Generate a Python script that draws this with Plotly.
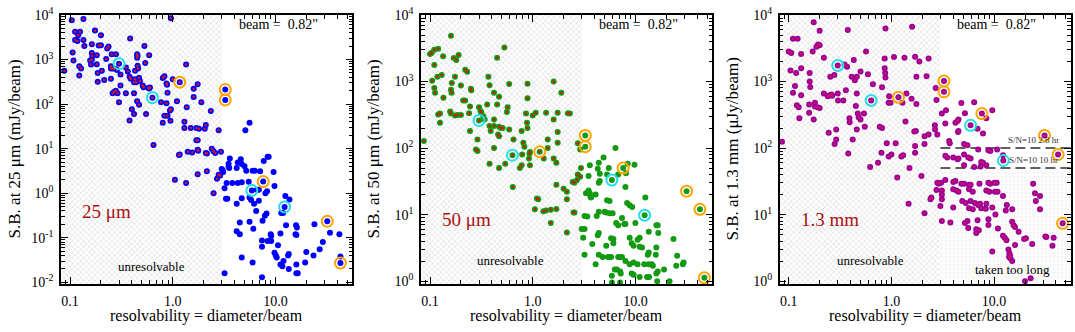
import math
import plotly.graph_objects as go

# ---------------- DATA ----------------
# Panel 1: 25 micron surface brightness (mJy/beam) vs resolvability
x25 = [0.104,0.135,0.96,0.112,0.125,0.12,0.112,0.118,0.135,0.138,0.175,0.2,0.163,0.19,0.2,0.237,0.23,0.385,0.53,
       0.106,0.108,0.088,0.123,0.128,0.123,0.157,0.163,0.163,0.165,0.16,0.182,0.182,0.225,0.255,0.28,0.25,0.25,0.26,
       0.27,0.186,0.204,0.186,0.215,0.25,0.287,0.31,0.35,0.365,0.38,0.39,0.43,0.45,0.455,0.45,0.455,0.46,0.54,0.59,
       0.43,0.44,0.42,0.47,0.48,0.51,0.52,0.58,0.59,0.6,0.26,0.27,0.28,0.29,0.31,0.3,0.35,0.42,0.38,0.4,0.42,0.45,
       0.47,0.55,0.65,0.77,0.8,0.83,0.87,0.88,0.89,0.87,0.83,0.89,0.96,0.94,0.95,0.8,1.0,1.35,1.1,1.37,1.6,1.6,1.75,
       1.9,1.3,1.3,1.5,1.7,1.8,1.7,1.75,2.05,2.1,2.35,2.8,1.75,1.77,1.4,1.55,2.1,2.15,2.4,2.5,2.6,2.95,1.15,1.17,
       1.05,1.35,1.75,2.15,2.8,2.9,2.7,2.5,3.2,3.3,3.2,
       5.6,5.1,3.6,4.6,3.5,4.3,3.5,3.55,4.2,4.7,5.0,3.0,3.05,3.1,5.2,6.0,6.3,7.1,8.4,8.6,7.7,9.6,3.35,3.8,4.3,4.7,
       5.5,3.4,4.7,5.6,5.8,6.6,6.9,8.0,8.3,9.8,4.2,6.2,6.9,6.5,8.2,7.9,7.5,5.6,6.1,4.5,4.2,4.5,12.5,13.7,11.4,11.9,
       12.7,15.9,16.2,16.0,15.7,11.2,9.1,9.0,24,34,42,7.4,7.4,8.4,9.1,10.6,9.8,10.1,10.3,13.5,13.3,11.2,11.7,12,
       13.5,16,16,16.5,20,23.5,19.5,29,27,43,4.7,6.0,7.4]
y25 = [7600,8100,8400,4200,4200,3500,2750,2600,2750,2000,4450,3500,2200,2050,2100,1950,1770,2950,2000,
       1430,950,560,710,630,440,950,1000,1400,1200,770,1250,780,1030,1320,1320,710,630,630,
       630,500,560,315,345,370,580,460,660,540,410,370,560,1320,1200,1100,720,630,830,1250,
       360,310,310,390,330,260,240,230,225,235,175,190,200,175,260,110,175,175,43,77,60,115,
       97,60,12,110,385,420,290,270,180,105,55,55,77,72,42,38,360,770,115,85,220,145,280,
       110,40,29,29,29,28,15.5,15.5,28,34,70,26,9.5,9.0,8.5,8.2,8.0,7.8,10,8.7,8.0,8.5,7.2,7.4,
       2.0,1.7,2.65,3.1,2.6,2.5,2.1,1.0,1.3,0.75,0.016,
       38,26,6.0,5.8,4.6,4.9,3.9,3.7,3.7,4.5,4.0,3.5,3.3,3.0,3.2,3.2,3.2,3.1,6.6,6.6,5.3,3.0,1.7,1.7,1.7,1.75,
       1.8,0.75,0.77,0.8,0.70,1.2,1.2,1.0,1.1,1.45,0.58,0.58,0.68,0.4,0.35,0.31,0.24,0.23,0.16,0.22,0.14,0.12,0.86,0.72,0.36,0.36,
       0.19,0.19,0.17,0.115,0.12,0.125,0.11,0.12,0.2,0.13,0.12,0.087,0.063,0.085,0.085,0.068,0.046,0.04,0.036,0.043,0.04,0.025,0.023,0.03,
       0.02,0.025,0.016,0.016,0.048,0.04,0.028,0.08,0.055,0.038,0.036,0.028,0.013]
ring_orange_x25 = [1.17, 3.25, 3.25, 7.6, 32, 43]
ring_orange_y25 = [310, 212, 124, 1.82, 0.235, 0.027]
ring_cyan_x25 = [0.30, 0.635, 5.9, 12.3]
ring_cyan_y25 = [805, 139, 1.15, 0.49]

# Panel 2: 50 micron surface brightness (mJy/beam)
x50 = [0.16,0.53,0.45,0.1,0.104,0.11,0.12,0.134,0.17,0.18,0.19,0.11,0.118,0.13,0.105,0.175,0.22,0.23,0.163,0.2,
       0.37,0.38,0.25,0.252,0.59,0.89,0.11,0.112,0.16,0.162,0.135,0.42,0.47,0.21,0.22,0.245,0.3,0.31,0.315,0.36,
       0.45,0.57,0.56,0.12,0.125,0.125,0.157,0.16,0.175,0.185,0.2,0.24,0.245,0.33,0.34,0.42,0.42,0.38,0.39,0.47,
       0.49,0.51,0.46,0.47,0.59,0.65,0.86,1.0,1.07,0.88,0.89,0.78,0.81,0.83,1.35,1.6,1.75,2.2,2.3,0.89,1.6,1.9,
       0.29,0.28,0.29,0.42,0.38,0.47,0.54,0.75,0.78,0.94,0.79,0.93,0.94,0.92,1.28,1.4,1.4,1.6,1.7,1.75,1.75,0.64,
       1.1,1.13,1.05,1.27,1.35,1.5,1.7,1.5,1.7,2.0,2.15,2.15,2.5,2.55,2.15,2.45,2.55,2.7,2.75,2.75,2.9,3.0,3.2,
       3.1,3.2,3.2,3.3,0.087,
       6.4,2.95,3.6,4.9,4.4,4.3,4.5,3.5,2.9,5.3,5.5,6.8,8.4,9.8,8.1,4.5,4.4,3.5,3.6,3.7,3.65,4.1,8.0,5.3,5.6,8.3,
       8.8,9.3,12.5,4.4,5.0,5.2,5.6,6.0,4.2,3.4,6.5,6.8,7.4,7.8,8.0,10,16,16.5,16.7,13.5,23.5,3.8,5.2,6.1,4.3,4.4,
       5.8,6.1,8.8,9.2,9.6,10.5,11,11,11.6,13.5,13.2,16,15.8,4.4,4.8,5.4,5.6,5.8,6.8,7.1,7.4,8.0,8.8,9.6,10.5,
       12.2,13.5,14.5,14.8,19,25.5,25,29,29.5,4.1,6.3,6.6,7.1,7.2,5.9,9.2,9.6,11,16,16.5,16.3,13,13.6,5.9,7.1,21.5]
y50 = [4900,3250,2270,2600,2700,3000,3100,2400,2250,2100,2500,1770,1180,1250,1030,1180,1500,1400,950,870,
       1180,880,780,740,920,930,800,680,750,680,570,680,590,520,520,420,410,360,345,450,
       450,410,350,320,330,240,355,330,310,315,315,335,180,300,270,270,215,215,180,210,
       200,200,160,150,190,135,330,310,340,240,200,180,120,105,340,270,340,335,330,560,1000,680,
       135,95,90,100,58,50,58,50,55,55,80,82,87,70,70,135,100,70,60,175,120,26,
       17.5,17,12,11.2,11.5,11.8,12.1,7.5,28,24.5,22,17,10.8,10.8,5.4,31,30,33,40,118,95,6.1,6.1,
       4.5,2.5,9.5,21,128,
       100,50,55,72,60,49,41,38,37,40,50,40,58,56,42,32,30,23,21,18,18.5,20,26,16.5,16,15,
       13.8,13,18,11,11,10.8,10.5,10.5,9.5,9.4,7.5,6.9,8.9,7.2,7.2,7.5,6.9,6.9,5.3,5.5,4.3,3.6,3.4,3.7,4.9,5.3,
       4.4,4.3,4.5,3.7,3.4,4.2,4.5,3.3,3.2,2.7,2.5,3.2,2.5,2.5,2.3,2.3,2.3,2.3,2.3,2.3,2.3,2.0,1.8,1.9,1.8,
       1.8,1.8,1.8,1.7,1.5,2.4,1.7,1.8,1.9,1.8,1.5,1.5,1.4,1.3,1.2,1.3,1.25,1.15,1.3,1.4,1.0,1.15,1.15,0.95,0.95,1.0]
ring_orange_x50 = [1.17, 3.25, 3.25, 7.6, 31.5, 42.5, 47]
ring_orange_y50 = [88, 155, 105, 50, 22.5, 12, 1.12]
ring_cyan_x50 = [0.30, 0.635, 5.9, 12.3]
ring_cyan_y50 = [260, 78, 33, 9.8]

# Panel 3: 1.3 mm surface brightness (uJy/beam)
x13 = [0.175,0.2,0.376,0.875,1.59,0.11,0.122,0.193,0.2,0.186,0.171,0.1,0.106,0.132,0.566,0.22,0.35,0.37,0.43,0.86,
       1.06,1.34,1.7,1.87,2.3,0.104,0.118,0.132,0.16,0.254,0.278,0.41,0.46,0.5,0.59,0.86,0.87,0.875,1.75,2.2,
       0.115,0.16,0.162,0.44,0.66,0.81,0.11,0.132,0.18,0.22,0.24,0.25,0.26,0.265,0.3,0.302,0.34,0.46,0.36,0.95,
       0.98,0.94,1.28,1.4,1.57,1.75,2.7,2.75,0.12,0.125,0.158,0.18,0.19,0.2,0.158,0.175,0.127,0.45,0.47,0.48,0.5,
       0.39,0.392,0.54,1.37,1.73,1.67,0.77,0.81,0.46,0.55,0.29,0.245,2.65,2.66,2.8,2.3,2.1,0.29,0.28,0.42,1.7,2.1,
       0.9,1.1,0.086,0.38,0.8,0.94,1.0,1.25,1.3,1.7,0.62,0.74,1.14,1.5,1.96,1.47,2.1,2.4,2.45,3.1,3.1,3.1,3.0,
       3.05,3.1,
       4.8,5.2,6.4,9.6,8.4,4.5,4.4,4.2,3.35,4.5,4.45,6.9,7.8,3.4,3.65,3.7,5.1,5.5,3.35,3.5,4.0,4.4,4.5,5.1,5.6,5.9,
       7.0,8.8,9.2,10.7,7.5,7.8,5.1,6.4,7.4,8.4,12.2,
       2.8,2.9,3.35,4.0,4.2,4.8,5.1,5.7,5.9,7.2,8.8,9.2,10.1,10.6,2.75,4.0,4.3,4.5,5.7,6.2,8.4,9.0,10.2,10.8,4.9,5.3,
       5.9,6.5,7.0,7.3,8.4,12.2,13.3,24,25,28,25.5,28,4.0,5.7,6.2,7.5,8.3,9.6,13,15,10.3,3.1,5.5,5.2,6.9,8.8,5.6,
       6.7,7.1,6.7,8.8,10.9,15,15.5,16,17.3,19.6,20.4,16,12.2,12.7,31.6,32.3,23.5,38,37,13.2,9.6,13.8,14.1,14.3,
       14.4,15,14,20,22.7,3.75]
y13 = [7770,5800,5970,6300,6650,4400,4400,3600,3500,3330,2830,2830,2680,2600,2830,2270,1800,1670,2100,2230,
       2330,2280,2350,2000,2230,1470,1350,1580,1350,1180,1250,1180,1180,1420,1290,1580,1350,1150,1180,1200,
       860,1000,830,1050,910,820,680,620,480,660,600,620,640,610,660,520,520,660,740,600,
       480,480,480,660,550,460,800,530,440,410,450,420,410,400,340,270,280,430,330,290,270,
       280,245,330,250,180,178,210,200,190,210,190,170,220,190,160,160,150,135,115,135,107,115,
       118,118,125,83,85,75,80,75,78,85,52,60,36,50,38,14.5,10.5,17,18,23,20,17,13.5,
       30,330,
       475,335,490,370,280,270,255,240,235,180,175,195,165,370,128,118,115,110,77,72,72,68,70,80,72,70,
       95,93,90,95,62,60,55,52,53,55,78,
       30,29,33,31,32,29,29,28,28,29,30,29,30,30,23.5,24,23,22,24,22,23,22,22,22,16,15,
       16,15,14,14.5,14.5,19,14,29,21,19,16,12,12.8,12.5,12,12.5,12.2,12.8,11.5,12,10,8.0,8.0,7.5,8.2,8.5,6.3,
       6.0,5.8,5.3,7.0,6.2,7.8,6.9,6.5,5.5,4.3,4.4,3.5,4.8,4.5,4.7,4.6,3.6,4.5,3.4,4.1,2.8,3.0,2.6,2.4,
       2.2,2.0,2.3,1.0,1.1,7.6]
ring_orange_x13 = [1.17, 3.25, 3.25, 7.6, 31, 42, 46.5]
ring_orange_y13 = [580, 1020, 700, 330, 155, 80, 7.4]
ring_cyan_x13 = [0.30, 0.635, 5.9, 12.3]
ring_cyan_y13 = [1750, 520, 220, 65]

ytitles = ["S.B. at 25 μm (mJy/beam)", "S.B. at 50 μm (mJy/beam)", "S.B. at 1.3 mm (μJy/beam)"]
band_labels = ["25 μm", "50 μm", "1.3 mm"]
xtitle = "resolvability = diameter/beam"
beam_text = 'beam =  0.82"'
unres_limit = 3.0
sn_levels = [100, 50]
sn_texts = ["S/N=10 2.8 hr", "S/N=10 10 hr"]
x_tick_vals = [0.1, 1.0, 10.0]
x_tick_text = ["0.1", "1.0", "10.0"]

# ---------------- STYLE ----------------
W, H = 1075, 332
FONT = "Liberation Serif"
xdoms = [(61, 352.3), (421, 712.3), (779.7, 1071)]
ydom = [1 - 288 / 332, 1 - 5 / 332]
xrange_log = [-1.088, 1.749]
yranges = [[-2.04, 4.004], [-0.045, 4.004], [-0.045, 4.004]]
colors = ["#0000ff", "#139a13", "#990099"]
center_colors = ["#dd1111", "#dd1111", "#cc1166"]
label_fracs = [(0.155, 0.268), (0.155, 0.24), (0.173, 0.24)]
unres_fracs = [(0.31, 0.067), (0.306, 0.088), (0.31, 0.088)]

data = [
    (x25, y25, ring_orange_x25, ring_orange_y25, ring_cyan_x25, ring_cyan_y25),
    (x50, y50, ring_orange_x50, ring_orange_y50, ring_cyan_x50, ring_cyan_y50),
    (x13, y13, ring_orange_x13, ring_orange_y13, ring_cyan_x13, ring_cyan_y13),
]

fig = go.Figure()
annotations = []
xlo = 10 ** (xrange_log[0] - 0.2)
xhi = 10 ** (xrange_log[1] + 0.2)


def ann(**kw):
    base = dict(showarrow=False, xanchor="center", yanchor="middle")
    base.update(kw)
    annotations.append(base)


for i, (xs, ys, ox, oy, cx, cy) in enumerate(data):
    n = "" if i == 0 else str(i + 1)
    xa, ya = "x" + n, "y" + n
    ylo = 10 ** (yranges[i][0] - 0.2)
    yhi = 10 ** (yranges[i][1] + 0.2)
    # unresolvable hatched region
    fig.add_trace(go.Scatter(
        x=[xlo, unres_limit, unres_limit, xlo, xlo], y=[ylo, ylo, yhi, yhi, ylo],
        mode="lines", fill="toself", line=dict(width=0), fillcolor="white",
        fillpattern=dict(shape="x", size=4, solidity=0.25, fgcolor="#a4a4a4", bgcolor="white"),
        xaxis=xa, yaxis=ya, hoverinfo="skip", showlegend=False))
    if i == 2:
        fig.add_trace(go.Scatter(
            x=[unres_limit, xhi, xhi, unres_limit, unres_limit], y=[ylo, ylo, sn_levels[1], sn_levels[1], ylo],
            mode="lines", fill="toself", line=dict(width=0), fillcolor="white",
            fillpattern=dict(shape="+", size=4, solidity=0.15, fgcolor="#b4b4b4", bgcolor="white"),
            xaxis=xa, yaxis=ya, hoverinfo="skip", showlegend=False))
        for lv, txt in zip(sn_levels, sn_texts):
            fig.add_trace(go.Scatter(
                x=[unres_limit, xhi], y=[lv, lv], mode="lines",
                line=dict(color="#606060", width=2, dash="10px,5px"),
                xaxis=xa, yaxis=ya, hoverinfo="skip", showlegend=False))
            ann(text=txt, xref="x3 domain", yref="y3", x=0.87, y=math.log10(lv), yanchor="bottom", yshift=1,
                font=dict(family=FONT, size=9, color="#333"))
    allx = list(xs) + list(ox) + list(cx)
    ally = list(ys) + list(oy) + list(cy)
    fig.add_trace(go.Scatter(x=allx, y=ally, mode="markers",
                             marker=dict(size=6, color=colors[i], line=dict(width=0)),
                             xaxis=xa, yaxis=ya, showlegend=False))
    if i == 2:
        cxs, cys = allx, ally
    else:
        pairs = [(a, b) for a, b in zip(allx, ally) if a < unres_limit]
        cxs, cys = [p[0] for p in pairs], [p[1] for p in pairs]
    fig.add_trace(go.Scatter(x=cxs, y=cys, mode="markers",
                             marker=dict(size=2.5, color=center_colors[i], line=dict(width=0)),
                             xaxis=xa, yaxis=ya, showlegend=False))
    fig.add_trace(go.Scatter(x=ox, y=oy, mode="markers",
                             marker=dict(symbol="circle-open", size=11, color="#ffa500", line=dict(width=2)),
                             xaxis=xa, yaxis=ya, showlegend=False))
    fig.add_trace(go.Scatter(x=cx, y=cy, mode="markers",
                             marker=dict(symbol="circle-open", size=11, color="#22e0e8", line=dict(width=2)),
                             xaxis=xa, yaxis=ya, showlegend=False))

    # axes
    k0 = int(round(yranges[i][0]))
    yt_vals = [10 ** k for k in range(k0, 5)]
    yt_text = ["10<sup>%d</sup>" % k for k in range(k0, 5)]
    y_minor = [m * 10 ** k for k in range(k0 - 1, 4) for m in range(2, 10)]
    x_minor = [m * 10 ** k for k in range(-2, 2) for m in range(2, 10)]
    common = dict(showline=True, linecolor="black", linewidth=1.5, mirror="allticks", ticks="inside",
                  ticklen=7, tickwidth=1, tickcolor="black", showgrid=False, zeroline=False,
                  ticklabeloverflow="allow",
                  tickfont=dict(family=FONT, size=14, color="black"))
    fig.layout["xaxis" + n] = dict(type="log", range=xrange_log, domain=[xdoms[i][0] / W, xdoms[i][1] / W],
                                   anchor=ya, tickmode="array", tickvals=x_tick_vals, ticktext=x_tick_text,
                                   minor=dict(tickmode="array", tickvals=x_minor, ticks="inside", ticklen=4,
                                              tickcolor="black", showgrid=False),
                                   ticklabelstandoff=3, **common)
    fig.layout["yaxis" + n] = dict(type="log", range=yranges[i], domain=ydom, anchor=xa,
                                   tickmode="array", tickvals=yt_vals, ticktext=yt_text,
                                   minor=dict(tickmode="array", tickvals=y_minor, ticks="inside", ticklen=4,
                                              tickcolor="black", showgrid=False),
                                   ticklabelstandoff=3, **common)
    xd = xa + " domain"
    yd = ya + " domain"
    ann(text=beam_text, xref=xd, yref=yd, x=0.745, y=0.965, font=dict(family=FONT, size=14, color="black"))
    ann(text=band_labels[i], xref=xd, yref=yd, x=label_fracs[i][0], y=label_fracs[i][1],
        font=dict(family=FONT, size=19, color="#aa1111"))
    ann(text="unresolvable", xref=xd, yref=yd, x=unres_fracs[i][0], y=unres_fracs[i][1],
        font=dict(family=FONT, size=13, color="black"))
    # axis titles
    ann(text=xtitle, xref="paper", yref="paper", x=(xdoms[i][0] + xdoms[i][1]) / 2 / W, y=1 - 322 / H,
        font=dict(family=FONT, size=16, color="black"))
    ann(text=ytitles[i], xref="paper", yref="paper", textangle=-90, x=(14 + 359 * i) / W,
        y=(ydom[0] + ydom[1]) / 2, font=dict(family=FONT, size=17, color="black"))

ann(text="taken too long", xref="x3 domain", yref="y3 domain", x=0.798, y=0.053,
    font=dict(family=FONT, size=13, color="black"))

fig.update_layout(width=W, height=H, margin=dict(l=0, r=0, t=0, b=0),
                  paper_bgcolor="white", plot_bgcolor="white", annotations=annotations,
                  showlegend=False)
fig.write_html("out.html")
